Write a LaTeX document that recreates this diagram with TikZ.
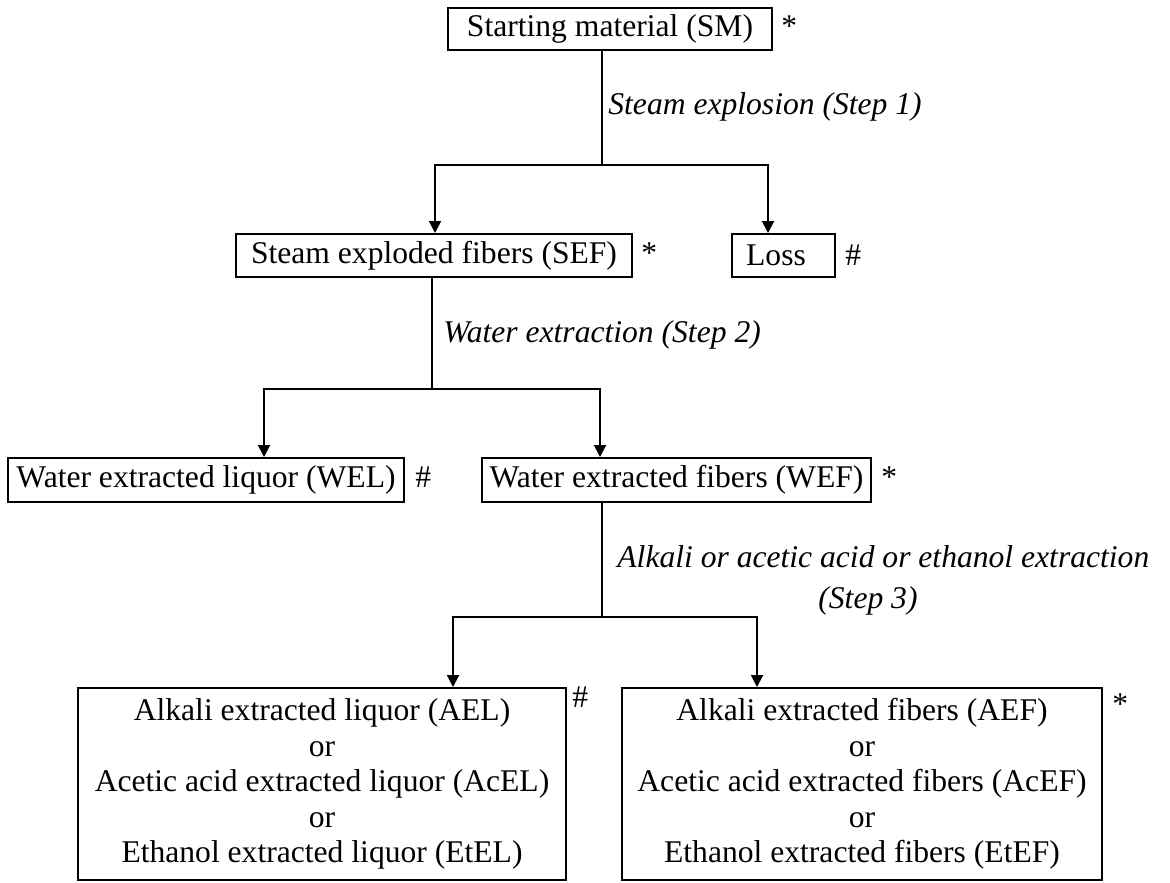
\documentclass[tikz,border=0pt]{standalone}
\usepackage{fontspec}
\setmainfont{Liberation Serif}
\usetikzlibrary{arrows.meta}
\begin{document}
\begin{tikzpicture}[x=0.5pt,y=-0.5pt,
  every node/.style={font=\fontsize{15.8pt}{17.75pt}\selectfont},
  box/.style={draw, line width=1pt, inner sep=0pt},
  conn/.style={line width=1pt},
  arr/.style={conn, -{Triangle[length=6pt,width=6pt]}},
  sym/.style={anchor=base west, inner sep=0pt},
  lab/.style={font=\fontsize{15.8pt}{20.5pt}\selectfont\itshape, inner sep=0pt},
]
\useasboundingbox (0,0) rectangle (1170,882);

% boxes
\node[box, minimum width=162pt, minimum height=21pt] (SM) at (610,29) {Starting material (SM)};
\node[box, minimum width=198pt, minimum height=21.5pt] (SEF) at (434,255.5) {Steam exploded fibers (SEF)};
\node[box, minimum width=51.5pt, minimum height=21.5pt] (Loss) at (783.5,255.5) {Loss\hspace*{7.5pt}};
\node[box, minimum width=198pt, minimum height=22pt] (WEL) at (206,480) {Water extracted liquor (WEL)};
\node[box, minimum width=194.5pt, minimum height=22pt] (WEF) at (676.5,480) {Water extracted fibers (WEF)};
\node[box, align=center, minimum width=244pt, minimum height=96pt] (AEL) at (322,784)
  {Alkali extracted liquor (AEL)\\or\\Acetic acid extracted liquor (AcEL)\\or\\Ethanol extracted liquor (EtEL)};
\node[box, align=center, minimum width=240pt, minimum height=96pt] (AEF) at (862,784)
  {Alkali extracted fibers (AEF)\\or\\Acetic acid extracted fibers (AcEF)\\or\\Ethanol extracted fibers (EtEF)};

% marks
\node[sym] (mSM) at (781,0 |- SM.base) {*};
\node[sym] (mSEF) at (641,0 |- SEF.base) {*};
\node[sym] (mLoss) at (845,0 |- Loss.base) {\#};
\node[sym] (mWEL) at (415,0 |- WEL.base) {\#};
\node[sym] (mWEF) at (881,0 |- WEF.base) {*};
\node[sym] (mAEL) at (572,707) {\#};
\node[sym] (mAEF) at (1112,714) {*};

% step labels
\node[lab, anchor=base west] (s1) at (608,115) {Steam explosion (Step 1)};
\node[lab, anchor=base west] (s2) at (443,342) {Water extraction (Step 2)};
\node[lab, anchor=north west, align=left] (s3) at (617,545)
  {Alkali or acetic acid or ethanol extraction\\\hspace*{100.5pt}(Step 3)};

% connectors
\coordinate (j1) at (602,165);
\coordinate (j1l) at (435,165);
\coordinate (j1r) at (768,165);
\draw[conn] (SM.south -| j1) -- (j1);
\draw[arr] (j1) -| (j1l |- SEF.north);
\draw[arr] (j1) -| (j1r |- Loss.north);

\coordinate (j2) at (432,389);
\coordinate (j2l) at (264,389);
\coordinate (j2r) at (600,389);
\draw[conn] (SEF.south -| j2) -- (j2);
\draw[arr] (j2) -| (j2l |- WEL.north);
\draw[arr] (j2) -| (j2r |- WEF.north);

\coordinate (j3) at (602,617);
\coordinate (j3l) at (453,617);
\coordinate (j3r) at (757,617);
\draw[conn] (WEF.south -| j3) -- (j3);
\draw[arr] (j3) -| (j3l |- AEL.north);
\draw[arr] (j3) -| (j3r |- AEF.north);
\end{tikzpicture}
\end{document}
